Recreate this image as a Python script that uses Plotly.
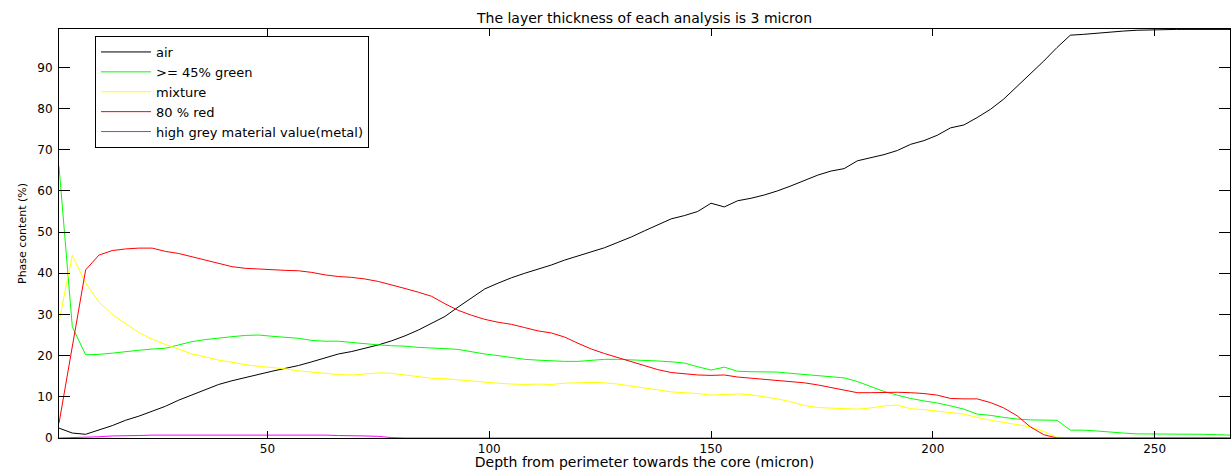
import plotly.graph_objects as go

# Depth positions (micron), one analysis every 3 micron
depth = list(range(3, 268, 3))

air = [2.4, 1.2, 0.9, 2.0, 3.0, 4.3, 5.3, 6.5, 7.7, 9.2,
       10.5, 11.8, 13.0, 13.9, 14.7, 15.5, 16.2, 16.9, 17.6, 18.5,
       19.5, 20.4, 21.0, 21.8, 22.6, 23.6, 24.8, 26.2, 27.8, 29.5,
       31.8, 34.0, 36.2, 37.6, 38.9, 40.0, 41.0, 42.0, 43.2, 44.2,
       45.2, 46.2, 47.5, 48.8, 50.3, 51.8, 53.2, 54.0, 55.0, 57.0,
       56.1, 57.6, 58.2, 59.0, 60.0, 61.2, 62.5, 63.8, 64.8, 65.4,
       67.3, 68.0, 68.8, 69.8, 71.3, 72.2, 73.5, 75.3, 76.0, 77.8,
       79.8, 82.3, 85.3, 88.3, 91.5, 94.8, 97.8, 98.0, 98.3, 98.6,
       98.8, 99.0, 99.1, 99.2, 99.2, 99.2, 99.2, 99.2, 99.2]

green = [66.0, 27.0, 20.2, 20.3, 20.6, 21.0, 21.3, 21.6, 21.8, 22.6,
         23.4, 23.9, 24.3, 24.6, 24.9, 25.0, 24.7, 24.4, 24.2, 23.7,
         23.5, 23.5, 23.2, 22.8, 22.6, 22.4, 22.3, 22.0, 21.9, 21.7,
         21.5, 20.9, 20.4, 20.0, 19.5, 19.1, 18.9, 18.7, 18.6, 18.6,
         18.9, 19.1, 19.1, 19.0, 18.9, 18.7, 18.5, 18.2, 17.3, 16.5,
         17.2, 16.2, 16.1, 16.1, 16.0, 15.7, 15.4, 15.1, 14.8, 14.6,
         13.7, 12.5, 11.3, 10.4, 9.6, 9.0, 8.5, 7.8, 7.0, 5.8,
         5.5, 5.0, 4.6, 4.4, 4.4, 4.3, 1.9, 1.9, 1.7, 1.4,
         1.2, 1.0, 1.0, 0.9, 0.9, 1.0, 0.9, 0.8, 0.7]

mixture = [28.2, 44.4, 37.6, 33.0, 30.0, 27.8, 25.6, 24.0, 22.7, 21.6,
           20.4, 19.7, 18.9, 18.4, 17.8, 17.4, 17.1, 16.8, 16.3, 16.0,
           15.7, 15.4, 15.3, 15.5, 15.8, 15.7, 15.3, 14.8, 14.5, 14.4,
           14.1, 13.9, 13.6, 13.3, 13.1, 13.0, 13.1, 13.0, 13.3, 13.4,
           13.5, 13.4, 13.1, 12.6, 12.2, 11.7, 11.2, 11.0, 10.8, 10.4,
           10.6, 10.7, 10.5, 10.0, 9.5, 8.8, 7.9, 7.4, 7.3, 7.2,
           7.0, 7.3, 7.8, 8.0, 7.1, 6.9, 6.5, 6.1, 5.8, 5.0,
           4.3, 3.8, 3.2, 2.7, 1.6, 0.2, 0.0, 0.0, 0.0, 0.0,
           0.0, 0.0, 0.0, 0.0, 0.0, 0.0, 0.0, 0.0, 0.0]

red80 = [3.6, 22.0, 40.8, 44.4, 45.5, 45.9, 46.1, 46.1, 45.3, 44.8,
         44.0, 43.2, 42.4, 41.6, 41.2, 41.0, 40.9, 40.7, 40.6, 40.2,
         39.6, 39.2, 39.0, 38.6, 38.0, 37.2, 36.3, 35.4, 34.4, 32.6,
         31.0, 29.8, 28.8, 28.1, 27.6, 26.8, 26.0, 25.5, 24.5, 23.0,
         21.6, 20.5, 19.5, 18.6, 17.6, 16.6, 15.9, 15.6, 15.3, 15.2,
         15.3, 14.8, 14.5, 14.2, 14.0, 13.7, 13.4, 12.9, 12.3, 11.6,
         11.0, 11.0, 11.1, 11.1, 11.0, 10.8, 10.4, 9.6, 9.5, 9.5,
         8.6, 7.3, 5.4, 2.7, 0.8, 0.0, 0.0, 0.0, 0.0, 0.0,
         0.0, 0.0, 0.0, 0.0, 0.0, 0.0, 0.0, 0.0, 0.0]

metal = [0.0, 0.05, 0.1, 0.3, 0.5, 0.5, 0.6, 0.7, 0.7, 0.8,
         0.8, 0.8, 0.8, 0.8, 0.8, 0.7, 0.7, 0.7, 0.7, 0.7,
         0.7, 0.6, 0.6, 0.5, 0.4, 0.1] + [0.0] * 63

series_names = ["air", ">= 45% green", "mixture", "80 % red",
                "high grey material value(metal)"]
series_values = [air, green, mixture, red80, metal]
series_colors = ["#000000", "#00ff00", "#ffff00", "#ff0000", "#ff00ff"]

x_ticks = [50, 100, 150, 200, 250]
y_ticks = [0, 10, 20, 30, 40, 50, 60, 70, 80, 90]

FONT = "DejaVu Sans"

fig = go.Figure()
for name, vals, col in zip(series_names, series_values, series_colors):
    fig.add_trace(go.Scatter(x=depth, y=vals, mode="lines", name=name,
                             line=dict(color=col, width=1)))

axis_common = dict(showline=True, linecolor="black", linewidth=1,
                   mirror="ticks", ticks="inside", tickcolor="black",
                   showgrid=False, zeroline=False,
                   tickfont=dict(family=FONT, size=12, color="black"))

fig.update_layout(
    width=1231, height=470,
    margin=dict(l=59, r=1, t=29, b=32, autoexpand=False),
    paper_bgcolor="white", plot_bgcolor="white",
    title=dict(text="The layer thickness of each analysis is 3 micron",
               font=dict(family=FONT, size=14, color="black"),
               x=0.5, xref="paper", xanchor="center",
               y=1 - 18 / 470, yref="container", yanchor="middle"),
    xaxis=dict(range=[3, 267], tickvals=x_ticks, ticklen=7,
               title=dict(text="Depth from perimeter towards the core (micron)",
                          font=dict(family=FONT, size=14, color="black"),
                          standoff=3),
               automargin=False, **axis_common),
    yaxis=dict(range=[0, 99.3], tickvals=y_ticks, ticklen=11,
               ticklabelstandoff=3,
               title=dict(text="Phase content (%)",
                          font=dict(family=FONT, size=11, color="black"),
                          standoff=8),
               automargin=False, **axis_common),
    legend=dict(x=(95 - 59) / 1171, y=(438 - 36) / 409,
                xanchor="left", yanchor="top",
                bgcolor="white", bordercolor="black", borderwidth=1,
                font=dict(family=FONT, size=13, color="black"),
                itemwidth=50, tracegroupgap=0),
    showlegend=True,
)

fig.write_html("out.html",
               config={"displayModeBar": False},
               post_script="document.body.style.margin='0';"
                           "document.body.style.padding='0';")
